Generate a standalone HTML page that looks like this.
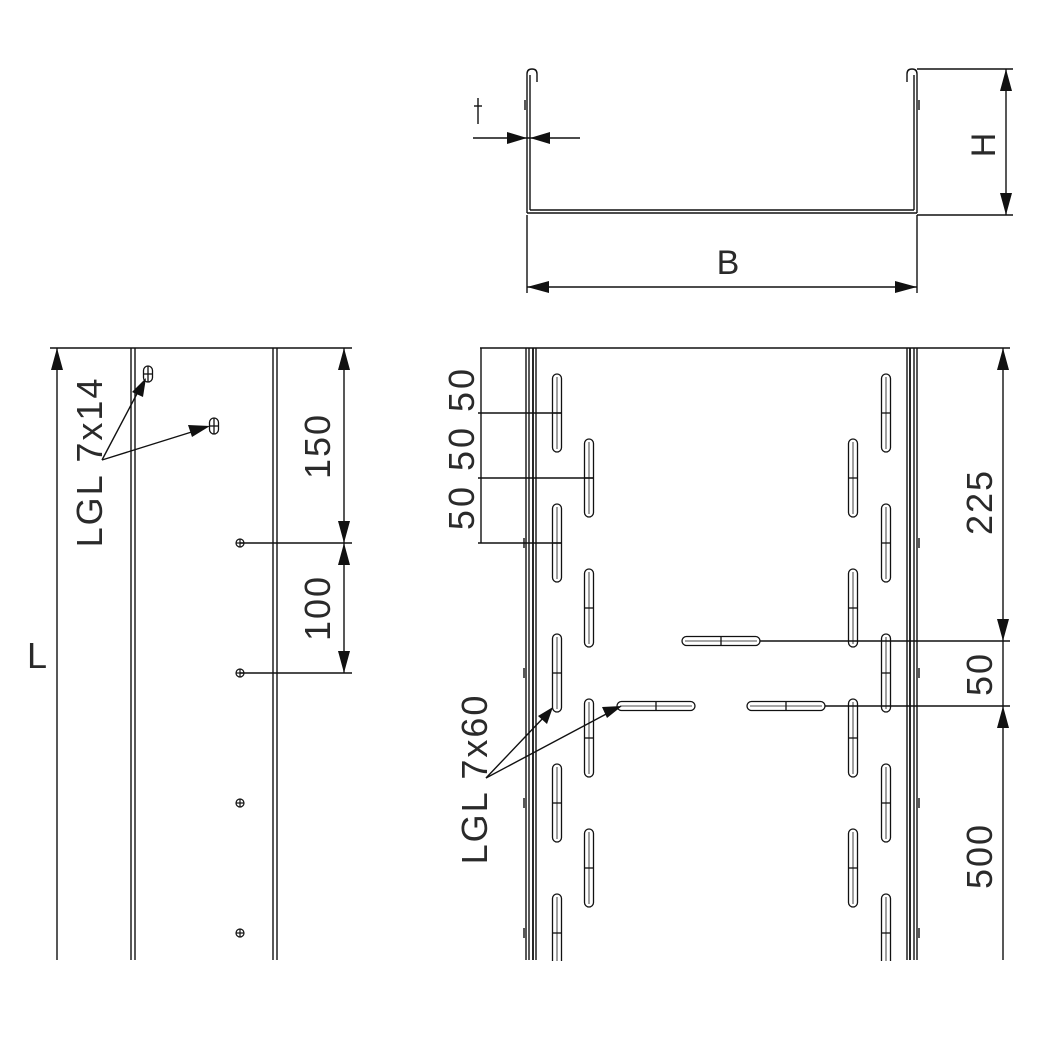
<!DOCTYPE html>
<html><head><meta charset="utf-8"><style>
html,body{margin:0;padding:0;background:#fff}
svg{display:block}
text{font-family:"Liberation Sans",sans-serif;fill:#2a2a2a}
</style></head><body>
<svg width="1037" height="1038" viewBox="0 0 1037 1038" xmlns="http://www.w3.org/2000/svg">
<defs>
<g id="vs" fill="none" stroke="#111" stroke-width="1.3">
<rect x="-4.5" y="-39" width="9" height="78" rx="4.5"/>
<line x1="0" y1="-36" x2="0" y2="36" stroke-width="0.8"/>
<line x1="-4.5" y1="0" x2="4.5" y2="0"/>
</g>
<g id="hs" fill="none" stroke="#111" stroke-width="1.3">
<rect x="-39" y="-4.5" width="78" height="9" rx="4.5"/>
<line x1="-36" y1="0" x2="36" y2="0" stroke-width="0.8"/>
<line x1="0" y1="-4.5" x2="0" y2="4.5"/>
</g>
<g id="hole" fill="none" stroke="#111" stroke-width="1.2">
<circle r="4"/><line x1="-4" y1="0" x2="4" y2="0"/><line x1="0" y1="-4" x2="0" y2="4"/>
</g>
<g id="ov" fill="none" stroke="#111" stroke-width="1.3">
<rect x="-4.5" y="-8" width="9" height="16" rx="4.5"/><line x1="-4.5" y1="0" x2="4.5" y2="0"/><line x1="0" y1="-8" x2="0" y2="8"/>
</g>
</defs>
<g stroke="#111" stroke-width="1.4" fill="none">
<path d="M527,213 L527,74 Q527,69 532,69 Q537,69 537,74 L537,82"/>
<path d="M530,210 L530,75"/>
<path d="M527,213 L917,213 M530,210 L914,210"/>
<path d="M917,213 L917,74 Q917,69 912,69 Q907,69 907,74 L907,82"/>
<path d="M914,210 L914,75"/>
<path d="M525,100 v10 M919,100 v10"/>
<line x1="473" y1="138" x2="580" y2="138"/>
<line x1="478" y1="98" x2="478" y2="124"/><line x1="474" y1="106" x2="482" y2="106"/>
<line x1="917" y1="69" x2="1013" y2="69"/><line x1="917" y1="215" x2="1013" y2="215"/>
<line x1="1006" y1="69" x2="1006" y2="215"/>
<line x1="527" y1="215" x2="527" y2="293"/><line x1="917" y1="215" x2="917" y2="293"/>
<line x1="527" y1="287" x2="917" y2="287"/>

<line x1="50" y1="348" x2="352" y2="348"/>
<line x1="57" y1="348" x2="57" y2="960"/>
<line x1="131" y1="348" x2="131" y2="960"/><line x1="135" y1="348" x2="135" y2="960"/>
<line x1="273" y1="348" x2="273" y2="960"/><line x1="277" y1="348" x2="277" y2="960"/>
<line x1="344" y1="348" x2="344" y2="673"/>
<line x1="240" y1="543" x2="352" y2="543"/><line x1="240" y1="673" x2="352" y2="673"/>
<line x1="102" y1="460" x2="140" y2="388"/><line x1="102" y1="460" x2="198" y2="430"/>

<line x1="480" y1="348" x2="1010" y2="348"/>
<line x1="526" y1="348" x2="526" y2="960"/><line x1="529" y1="348" x2="529" y2="960"/>
<line x1="533" y1="348" x2="533" y2="960" stroke-width="1.8"/><line x1="536" y1="348" x2="536" y2="960"/>
<line x1="907" y1="348" x2="907" y2="960"/><line x1="910" y1="348" x2="910" y2="960" stroke-width="1.8"/>
<line x1="914" y1="348" x2="914" y2="960"/><line x1="917" y1="348" x2="917" y2="960"/>
<path d="M524,538 v10 M524,668 v10 M524,798 v10 M524,928 v10 M919,538 v10 M919,668 v10 M919,798 v10 M919,928 v10"/>
<line x1="481" y1="348" x2="481" y2="543"/>
<line x1="478" y1="413" x2="562" y2="413"/><line x1="478" y1="478" x2="594" y2="478"/><line x1="478" y1="543" x2="562" y2="543"/>
<line x1="760" y1="641" x2="1010" y2="641"/><line x1="825" y1="706" x2="1010" y2="706"/>
<line x1="1003" y1="348" x2="1003" y2="960"/>
<line x1="486" y1="778" x2="545" y2="716"/><line x1="486" y1="778" x2="610" y2="712"/>
</g>
<g fill="#111">
<polygon points="527,138 507,132 507,144"/><polygon points="530,138 550,132 550,144"/>
<polygon points="1006,69 1000,91 1012,91"/><polygon points="1006,215 1000,193 1012,193"/>
<polygon points="527,287 549,281 549,293"/><polygon points="917,287 895,281 895,293"/>
<polygon points="57,348 51,370 63,370"/>
<polygon points="344,348 338,370 350,370"/><polygon points="344,543 338,521 350,521"/>
<polygon points="344,543 338,565 350,565"/><polygon points="344,673 338,651 350,651"/>
<polygon points="146,378 132,392 143,397"/><polygon points="210,426 188,425 192,437"/>
<polygon points="1003,348 997,370 1009,370"/><polygon points="1003,641 997,619 1009,619"/>
<polygon points="1003,706 997,728 1009,728"/>
<polygon points="553,707 538,716 547,724"/><polygon points="622,706 602,707 607,718"/>
</g>
<use href="#ov" x="148" y="374"/><use href="#ov" x="214" y="426"/>
<use href="#hole" x="240" y="543"/><use href="#hole" x="240" y="673"/><use href="#hole" x="240" y="803"/><use href="#hole" x="240" y="933"/>
<use href="#vs" x="557" y="413"/><use href="#vs" x="557" y="543"/><use href="#vs" x="557" y="673"/><use href="#vs" x="557" y="803"/><use href="#vs" x="557" y="933"/>
<use href="#vs" x="589" y="478"/><use href="#vs" x="589" y="608"/><use href="#vs" x="589" y="738"/><use href="#vs" x="589" y="868"/>
<use href="#vs" x="853" y="478"/><use href="#vs" x="853" y="608"/><use href="#vs" x="853" y="738"/><use href="#vs" x="853" y="868"/>
<use href="#vs" x="886" y="413"/><use href="#vs" x="886" y="543"/><use href="#vs" x="886" y="673"/><use href="#vs" x="886" y="803"/><use href="#vs" x="886" y="933"/>
<use href="#hs" x="721" y="641"/><use href="#hs" x="656" y="706"/><use href="#hs" x="786" y="706"/>
<rect x="0" y="961" width="1037" height="77" fill="#fff"/>
<text x="728" y="274" font-size="34" text-anchor="middle">B</text>
<text x="0" y="0" font-size="34" text-anchor="middle" transform="translate(995,145) rotate(-90)">H</text>
<text x="37" y="668" font-size="36" text-anchor="middle">L</text>
<text x="0" y="0" font-size="36" letter-spacing="2" text-anchor="middle" transform="translate(102,462) rotate(-90)">LGL  7x14</text>
<text x="0" y="0" font-size="36" letter-spacing="2" text-anchor="middle" transform="translate(330,446) rotate(-90)">150</text>
<text x="0" y="0" font-size="36" letter-spacing="2" text-anchor="middle" transform="translate(330,608) rotate(-90)">100</text>
<text x="0" y="0" font-size="36" letter-spacing="3" text-anchor="middle" transform="translate(474,448) rotate(-90)">50 50 50</text>
<text x="0" y="0" font-size="36" letter-spacing="2" text-anchor="middle" transform="translate(487,779) rotate(-90)">LGL  7x60</text>
<text x="0" y="0" font-size="36" letter-spacing="2" text-anchor="middle" transform="translate(992,502) rotate(-90)">225</text>
<text x="0" y="0" font-size="36" letter-spacing="2" text-anchor="middle" transform="translate(992,674) rotate(-90)">50</text>
<text x="0" y="0" font-size="36" letter-spacing="2" text-anchor="middle" transform="translate(992,856) rotate(-90)">500</text>
</svg>
</body></html>
